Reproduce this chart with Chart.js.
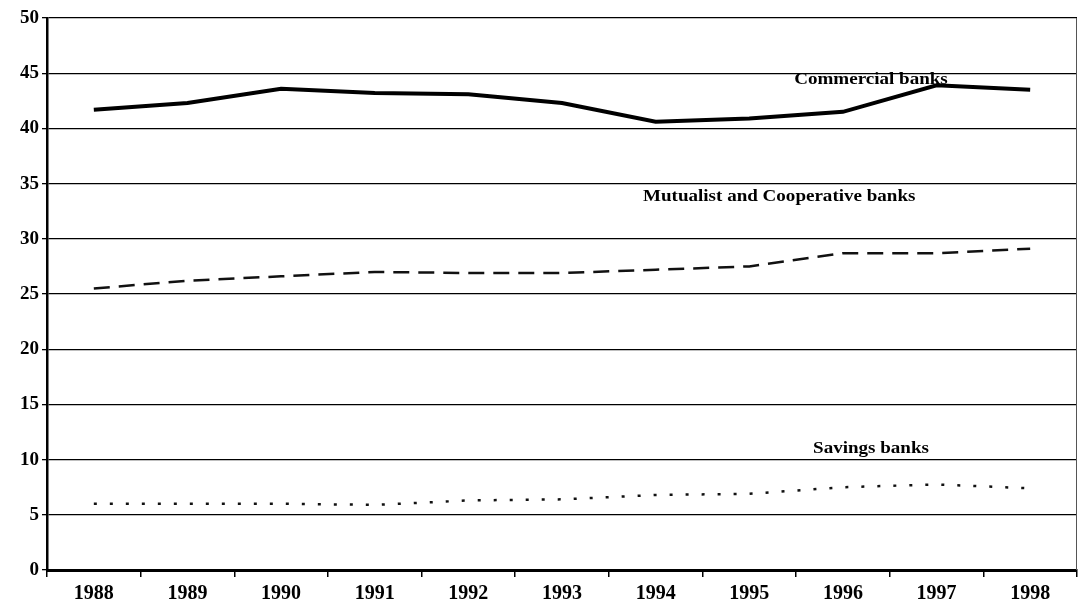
<!DOCTYPE html>
<html lang="en">
<head>
  <meta charset="UTF-8">
  <title>Bank market shares 1988-1998</title>
  <script src="https://cdn.jsdelivr.net/npm/chart.js"></script>
  <style>
    body {
      margin: 0;
      background: #ffffff;
    }
    .wrap {
      width: 1079px;
      height: 612px;
    }
  </style>
</head>
<body>

<div class="wrap">
  <canvas id="shareChart" width="1079" height="612"></canvas>
</div>

<script>
  // Data
  const years = ['1988', '1989', '1990', '1991', '1992', '1993', '1994', '1995', '1996', '1997', '1998'];
  const commercial = [41.7, 42.3, 43.6, 43.2, 43.1, 42.3, 40.6, 40.9, 41.5, 43.9, 43.5];
  const mutualist = [25.5, 26.2, 26.6, 27.0, 26.9, 26.9, 27.2, 27.5, 28.7, 28.7, 29.1];
  const savings = [6.0, 6.0, 6.0, 5.9, 6.3, 6.4, 6.8, 6.9, 7.5, 7.75, 7.4];
  const yTicks = [0, 5, 10, 15, 20, 25, 30, 35, 40, 45, 50];

  // Series captions written inside the plot (category index, value)
  const captions = [
    { text: 'Commercial banks', x: 8.3, y: 44.4 },
    { text: 'Mutualist and Cooperative banks', x: 7.32, y: 33.8 },
    { text: 'Savings banks', x: 8.3, y: 11.0 }
  ];

  const serif = "'Liberation Serif', 'Times New Roman', serif";

  // Captions + thin right frame line
  const extras = {
    id: 'extras',
    afterDraw(chart) {
      const c = chart.ctx;
      const area = chart.chartArea;
      const xs = chart.scales.x;
      const ys = chart.scales.y;
      c.save();
      c.strokeStyle = '#555555';
      c.lineWidth = 1;
      c.beginPath();
      c.moveTo(area.right - 0.5, area.top);
      c.lineTo(area.right - 0.5, area.bottom);
      c.stroke();

      c.fillStyle = '#000000';
      c.font = 'bold 17px ' + serif;
      c.textAlign = 'center';
      c.textBaseline = 'middle';
      captions.forEach(cap => {
        const px = xs.getPixelForValue(cap.x);
        const py = ys.getPixelForValue(cap.y);
        c.save();
        c.translate(px, py);
        c.scale(1.12, 1); // the scanned lettering is a bit wide
        c.fillText(cap.text, 0, 0);
        c.restore();
      });
      c.restore();
    }
  };

  const ctx = document.getElementById('shareChart').getContext('2d');
  new Chart(ctx, {
    type: 'line',
    data: {
      labels: years,
      datasets: [
        {
          label: 'Commercial banks',
          data: commercial,
          borderColor: '#000000',
          borderWidth: 4,
          pointRadius: 0,
          tension: 0
        },
        {
          label: 'Mutualist and Cooperative banks',
          data: mutualist,
          borderColor: '#111111',
          borderWidth: 2.5,
          borderDash: [16, 9],
          pointRadius: 0,
          tension: 0
        },
        {
          label: 'Savings banks',
          data: savings,
          borderColor: '#111111',
          borderWidth: 2.5,
          borderDash: [3, 13],
          pointRadius: 0,
          tension: 0
        }
      ]
    },
    options: {
      responsive: false,
      animation: false,
      layout: {
        padding: { top: 18, right: 2, left: 0, bottom: 0 }
      },
      plugins: {
        legend: { display: false },
        tooltip: { enabled: false }
      },
      scales: {
        x: {
          offset: true,
          grid: {
            offset: true,
            drawOnChartArea: false,
            drawTicks: true,
            tickLength: 7,
            color: '#000000',
            lineWidth: 1.5
          },
          border: { color: '#000000', width: 3 },
          ticks: {
            color: '#000000',
            font: { family: serif, size: 20, weight: 'bold' },
            padding: 5,
            maxRotation: 0
          },
          afterFit(scale) { scale.height = 42; }
        },
        y: {
          min: 0,
          max: 50,
          afterBuildTicks(scale) {
            scale.ticks = yTicks.map(v => ({ value: v }));
          },
          grid: {
            color: '#000000',
            lineWidth: 1.3,
            drawTicks: true,
            tickLength: 5
          },
          border: { color: '#000000', width: 2.5 },
          ticks: {
            color: '#000000',
            font: { family: serif, size: 19, weight: 'bold' },
            padding: 3
          },
          afterFit(scale) { scale.width = 47; }
        }
      }
    },
    plugins: [extras]
  });
</script>

</body>
</html>
